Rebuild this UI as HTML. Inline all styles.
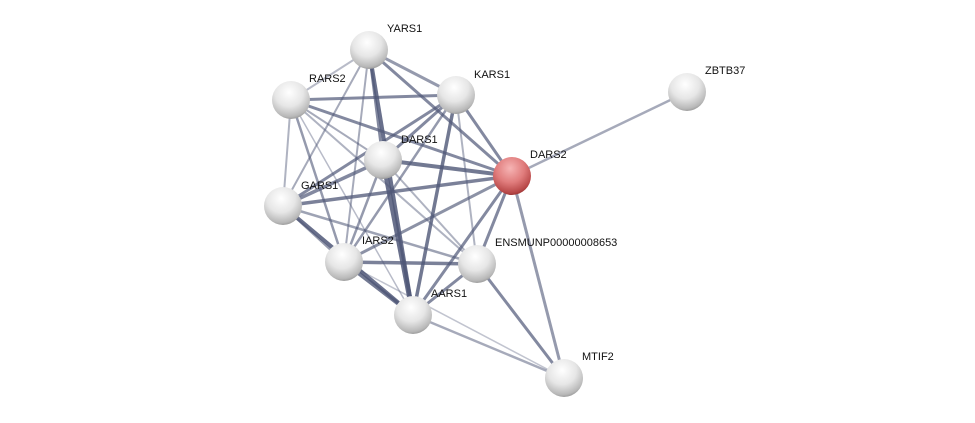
<!DOCTYPE html>
<html><head><meta charset="utf-8"><style>
html,body{margin:0;padding:0;background:#fff;width:975px;height:423px;overflow:hidden}
svg text{font-family:"Liberation Sans",sans-serif;font-size:11px;fill:#111}
</style></head><body>
<svg width="975" height="423" viewBox="0 0 975 423">
<defs>
<radialGradient id="g" cx="45%" cy="30%" r="75%">
<stop offset="0" stop-color="#ffffff"/><stop offset="0.5" stop-color="#e6e6e6"/><stop offset="0.85" stop-color="#b8b8b8"/><stop offset="1" stop-color="#8a8a8a"/></radialGradient>
<radialGradient id="r" cx="45%" cy="30%" r="75%">
<stop offset="0" stop-color="#f6b4b4"/><stop offset="0.5" stop-color="#e07c7c"/><stop offset="0.85" stop-color="#b84848"/><stop offset="1" stop-color="#8a2a2a"/></radialGradient>
</defs>
<g stroke="#505878" stroke-linecap="round">
<line x1="369" y1="50" x2="291" y2="100" stroke-width="2" opacity="0.4"/>
<line x1="369" y1="50" x2="456" y2="95" stroke-width="3" opacity="0.6"/>
<line x1="369" y1="50" x2="383" y2="160" stroke-width="3" opacity="0.7"/>
<line x1="369" y1="50" x2="512" y2="176" stroke-width="3" opacity="0.7"/>
<line x1="369" y1="50" x2="413" y2="315" stroke-width="4" opacity="0.85"/>
<line x1="369" y1="50" x2="283" y2="206" stroke-width="2" opacity="0.5"/>
<line x1="369" y1="50" x2="344" y2="262" stroke-width="2" opacity="0.5"/>
<line x1="291" y1="100" x2="456" y2="95" stroke-width="3" opacity="0.7"/>
<line x1="291" y1="100" x2="383" y2="160" stroke-width="2" opacity="0.5"/>
<line x1="291" y1="100" x2="512" y2="176" stroke-width="3" opacity="0.7"/>
<line x1="291" y1="100" x2="283" y2="206" stroke-width="2" opacity="0.45"/>
<line x1="291" y1="100" x2="344" y2="262" stroke-width="2.5" opacity="0.6"/>
<line x1="291" y1="100" x2="477" y2="264" stroke-width="2" opacity="0.45"/>
<line x1="291" y1="100" x2="413" y2="315" stroke-width="1.5" opacity="0.4"/>
<line x1="456" y1="95" x2="383" y2="160" stroke-width="3" opacity="0.7"/>
<line x1="456" y1="95" x2="512" y2="176" stroke-width="3" opacity="0.7"/>
<line x1="456" y1="95" x2="283" y2="206" stroke-width="3" opacity="0.7"/>
<line x1="456" y1="95" x2="344" y2="262" stroke-width="2.5" opacity="0.6"/>
<line x1="456" y1="95" x2="413" y2="315" stroke-width="3.5" opacity="0.8"/>
<line x1="456" y1="95" x2="477" y2="264" stroke-width="2" opacity="0.45"/>
<line x1="383" y1="160" x2="512" y2="176" stroke-width="4" opacity="0.8"/>
<line x1="383" y1="160" x2="283" y2="206" stroke-width="3.5" opacity="0.7"/>
<line x1="383" y1="160" x2="344" y2="262" stroke-width="2.5" opacity="0.6"/>
<line x1="383" y1="160" x2="413" y2="315" stroke-width="5" opacity="0.85"/>
<line x1="383" y1="160" x2="477" y2="264" stroke-width="2" opacity="0.45"/>
<line x1="512" y1="176" x2="283" y2="206" stroke-width="3.5" opacity="0.75"/>
<line x1="512" y1="176" x2="344" y2="262" stroke-width="3" opacity="0.65"/>
<line x1="512" y1="176" x2="413" y2="315" stroke-width="3" opacity="0.7"/>
<line x1="512" y1="176" x2="477" y2="264" stroke-width="3" opacity="0.7"/>
<line x1="512" y1="176" x2="564" y2="378" stroke-width="3" opacity="0.6"/>
<line x1="512" y1="176" x2="687" y2="92" stroke-width="2.5" opacity="0.5"/>
<line x1="283" y1="206" x2="344" y2="262" stroke-width="2.5" opacity="0.6"/>
<line x1="283" y1="206" x2="413" y2="315" stroke-width="4" opacity="0.85"/>
<line x1="283" y1="206" x2="477" y2="264" stroke-width="2.5" opacity="0.55"/>
<line x1="344" y1="262" x2="413" y2="315" stroke-width="4" opacity="0.8"/>
<line x1="344" y1="262" x2="477" y2="264" stroke-width="3.5" opacity="0.75"/>
<line x1="344" y1="262" x2="564" y2="378" stroke-width="1.5" opacity="0.35"/>
<line x1="477" y1="264" x2="413" y2="315" stroke-width="3" opacity="0.7"/>
<line x1="477" y1="264" x2="564" y2="378" stroke-width="3" opacity="0.7"/>
<line x1="413" y1="315" x2="564" y2="378" stroke-width="2.5" opacity="0.5"/>
</g>
<g>
<circle cx="369" cy="50" r="19" fill="url(#g)"/>
<circle cx="291" cy="100" r="19" fill="url(#g)"/>
<circle cx="456" cy="95" r="19" fill="url(#g)"/>
<circle cx="687" cy="92" r="19" fill="url(#g)"/>
<circle cx="383" cy="160" r="19" fill="url(#g)"/>
<circle cx="512" cy="176" r="19" fill="url(#r)"/>
<circle cx="283" cy="206" r="19" fill="url(#g)"/>
<circle cx="344" cy="262" r="19" fill="url(#g)"/>
<circle cx="477" cy="264" r="19" fill="url(#g)"/>
<circle cx="413" cy="315" r="19" fill="url(#g)"/>
<circle cx="564" cy="378" r="19" fill="url(#g)"/>
</g>
<g>
<text x="387" y="32">YARS1</text>
<text x="309" y="82">RARS2</text>
<text x="474" y="78">KARS1</text>
<text x="705" y="74">ZBTB37</text>
<text x="401" y="143">DARS1</text>
<text x="530" y="158">DARS2</text>
<text x="301" y="189">GARS1</text>
<text x="362" y="244">IARS2</text>
<text x="495" y="246">ENSMUNP00000008653</text>
<text x="431" y="297">AARS1</text>
<text x="582" y="360">MTIF2</text>
</g>
</svg>
</body></html>
